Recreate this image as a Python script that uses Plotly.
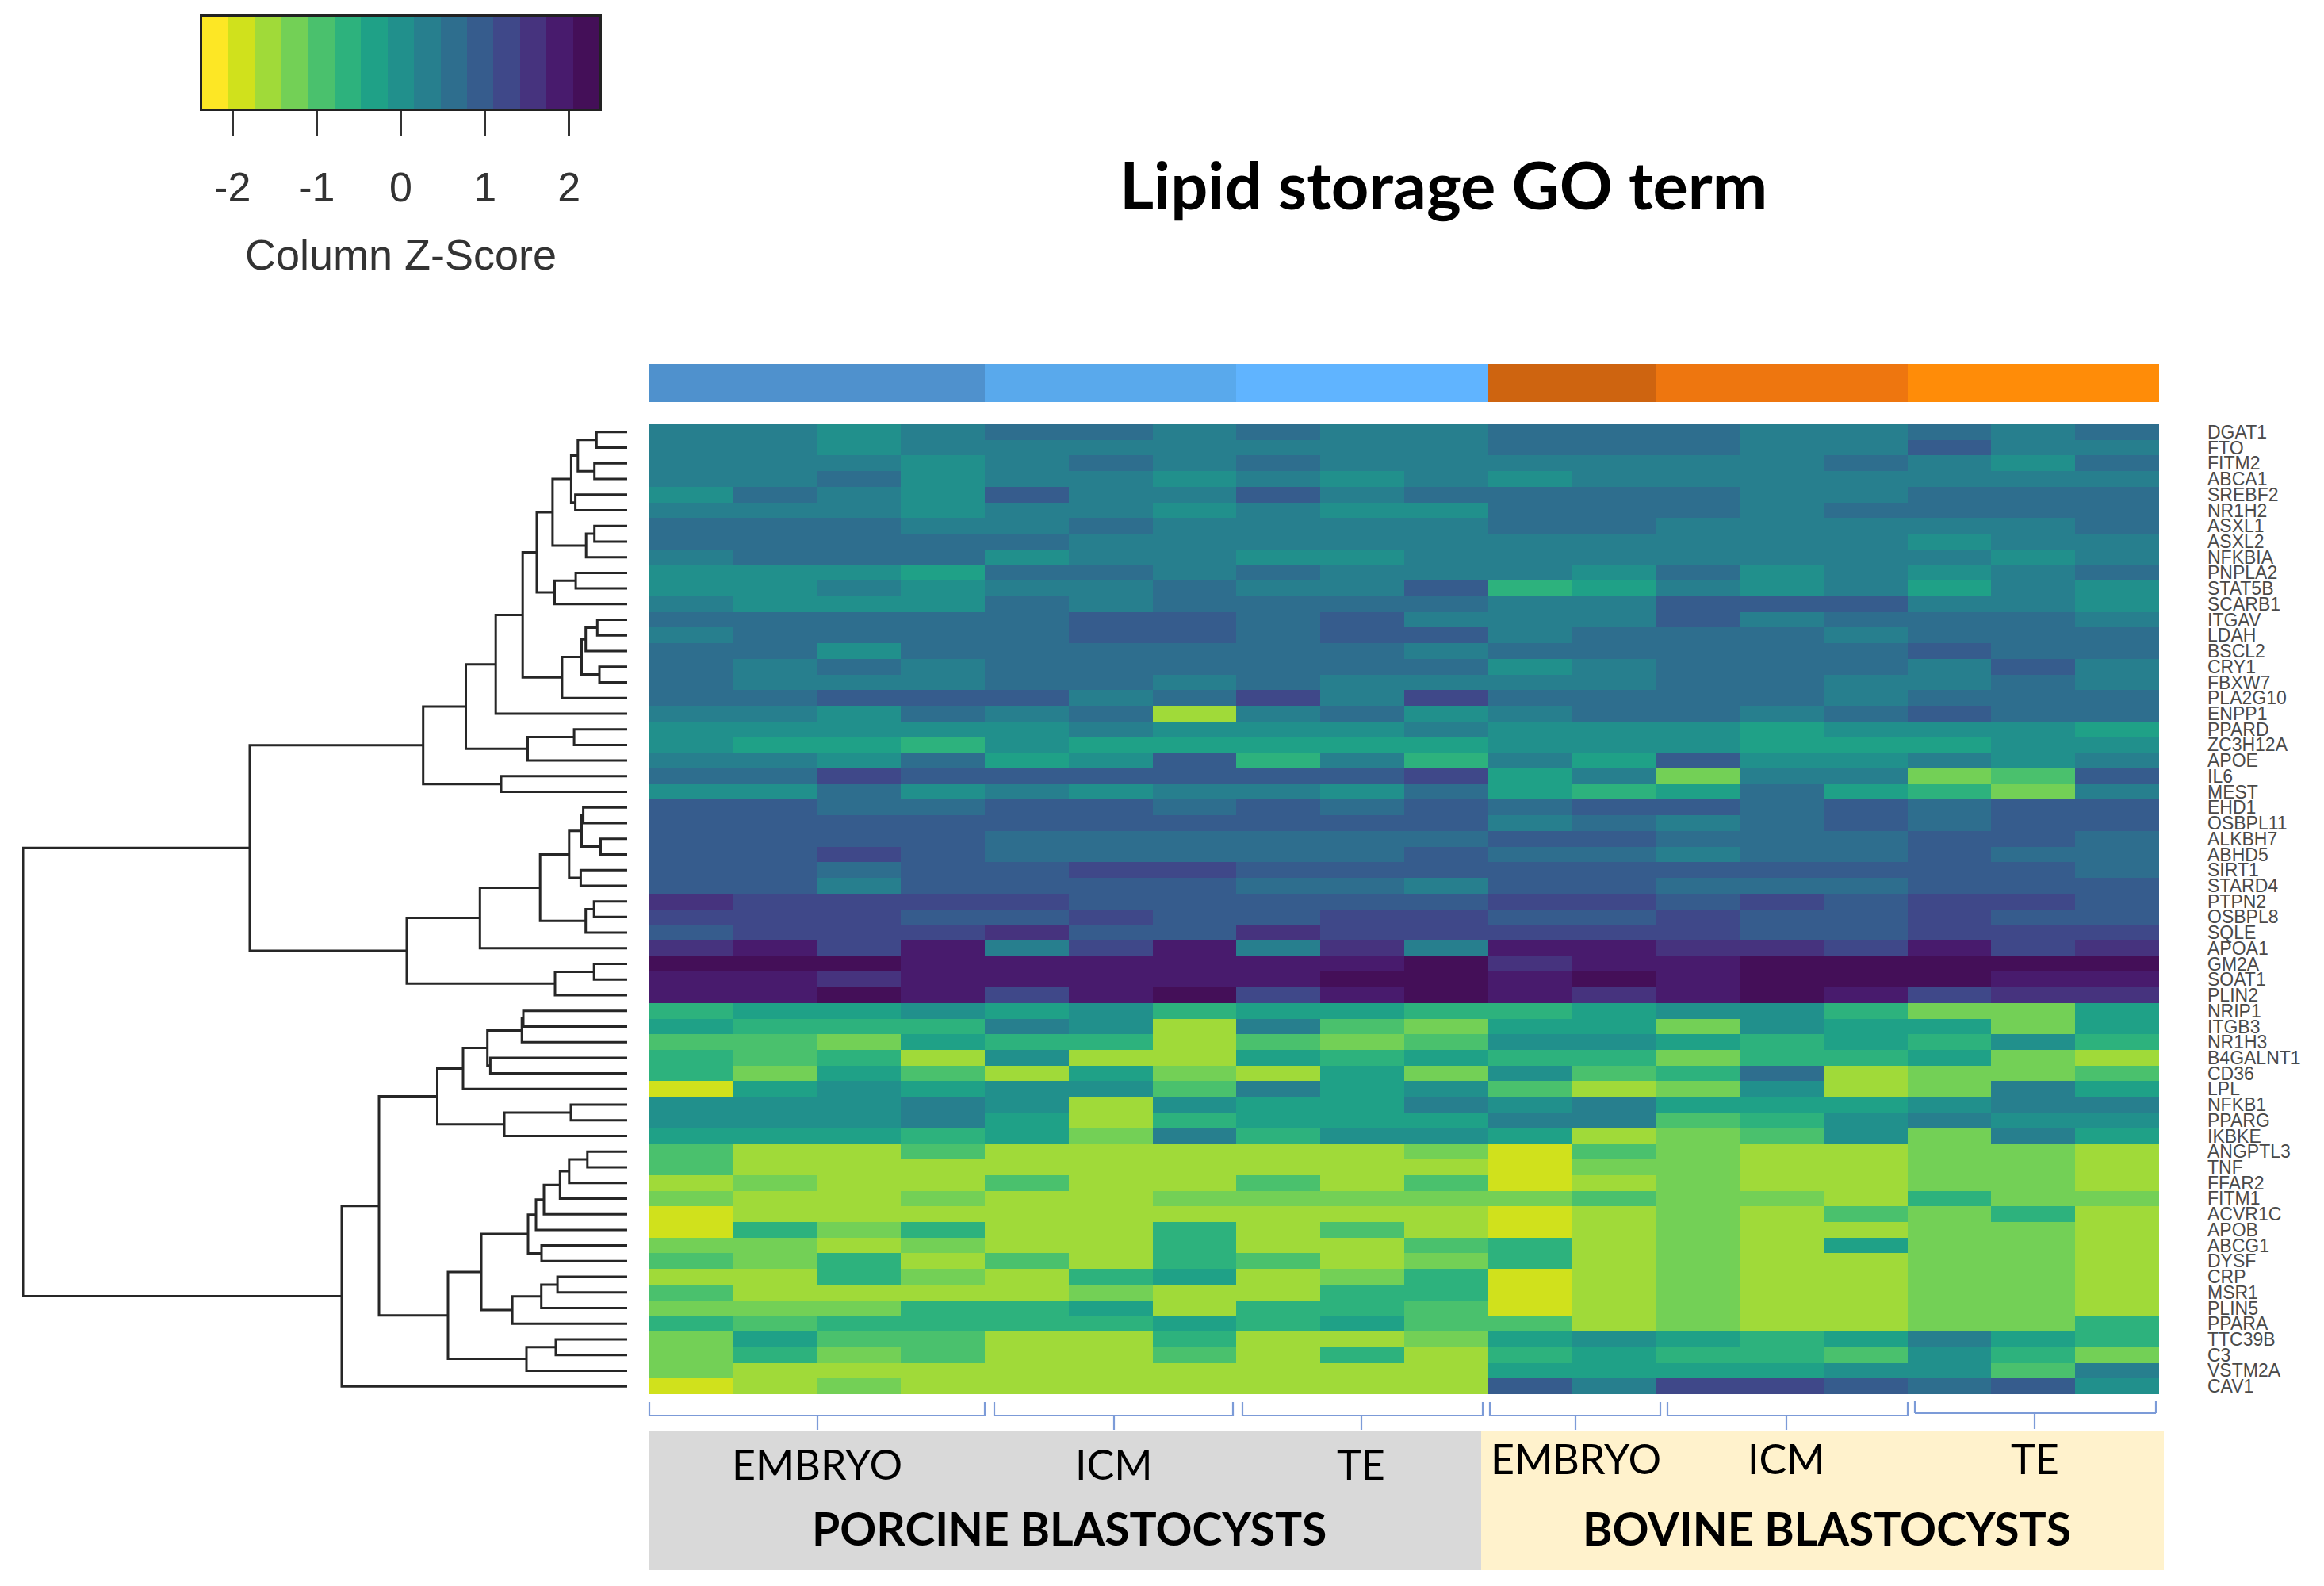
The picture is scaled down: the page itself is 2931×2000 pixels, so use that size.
import plotly.graph_objects as go

GENES = ["DGAT1","FTO","FITM2","ABCA1","SREBF2","NR1H2","ASXL1","ASXL2","NFKBIA","PNPLA2",
         "STAT5B","SCARB1","ITGAV","LDAH","BSCL2","CRY1","FBXW7","PLA2G10","ENPP1","PPARD",
         "ZC3H12A","APOE","IL6","MEST","EHD1","OSBPL11","ALKBH7","ABHD5","SIRT1","STARD4",
         "PTPN2","OSBPL8","SQLE","APOA1","GM2A","SOAT1","PLIN2","NRIP1","ITGB3","NR1H3",
         "B4GALNT1","CD36","LPL","NFKB1","PPARG","IKBKE","ANGPTL3","TNF","FFAR2","FITM1",
         "ACVR1C","APOB","ABCG1","DYSF","CRP","MSR1","PLIN5","PPARA","TTC39B","C3",
         "VSTM2A","CAV1"]

# one row per gene, 18 samples: porcine embryo x4, ICM x3, TE x3, bovine embryo x2, ICM x3, TE x3
Z_SCORES = [
 [.3,.3,0,.3,.6,.6,.3,.6,.3,.3,.6,.6,.6,.3,.3,.6,.3,.6],
 [.3,.3,0,.3,.3,.3,.3,.3,.3,.3,.6,.6,.6,.3,.3,.9,.3,.3],
 [.3,.3,.3,0,.3,.6,.3,.6,.3,.3,.3,.3,.3,.3,.6,.3,0,.6],
 [.3,.3,.6,0,.3,.3,0,.3,0,.3,0,.3,.3,.3,.3,.3,.3,.3],
 [0,.6,.3,0,.9,.3,.3,.9,.3,.6,.6,.6,.6,.3,.3,.6,.6,.6],
 [.3,.3,.3,0,.3,.3,0,.3,0,0,.6,.6,.6,.3,.6,.6,.6,.6],
 [.6,.6,.6,.3,.3,.6,.3,.3,.3,.3,.6,.6,.3,.3,.3,.3,.3,.6],
 [.6,.6,.6,.6,.6,.3,.3,.3,.3,.3,.3,.3,.3,.3,.3,0,.3,.3],
 [.3,.6,.6,.6,0,.3,.3,0,0,.3,.3,.3,.3,.3,.3,.3,0,.3],
 [0,0,0,-.3,.6,.6,.3,.6,.3,.3,.3,0,.6,0,.3,0,.3,.6],
 [0,0,.3,0,.3,.3,.6,.3,.3,.9,-.6,-.3,.3,0,.3,-.3,.3,0],
 [.3,0,0,0,.6,.3,.6,.6,.6,.6,.3,.3,.9,.9,.9,.3,.3,0],
 [.6,.6,.6,.6,.6,.9,.9,.6,.9,.3,.3,.3,.9,.3,.6,.6,.6,.3],
 [.3,.6,.6,.6,.6,.9,.9,.6,.9,.9,.3,.6,.6,.6,.3,.6,.6,.6],
 [.6,.6,0,.6,.6,.6,.6,.6,.6,.3,.6,.6,.6,.6,.6,.9,.6,.6],
 [.6,.3,.6,.3,.6,.6,.6,.6,.6,.6,0,.3,.6,.6,.6,.3,.9,.3],
 [.6,.3,.3,.3,.6,.6,.3,.6,.3,.3,.3,.3,.6,.6,.3,.3,.6,.3],
 [.6,.6,.9,.9,.9,.3,.6,1.3,.3,1.3,.6,.6,.6,.6,.3,.6,.6,.6],
 [.3,.3,0,.6,.3,.6,-1.6,.3,.6,0,.3,.6,.6,.3,.6,.9,.6,.6],
 [0,0,0,0,0,.3,0,0,0,.3,0,0,0,-.3,0,0,0,-.3],
 [0,-.3,-.3,-.6,0,-.3,-.3,-.3,-.3,-.3,0,0,0,-.3,-.3,-.3,0,0],
 [.3,.3,0,.6,-.3,0,.9,-.6,.3,-.6,.3,-.3,.9,0,0,.3,0,.3],
 [.6,.6,1.3,.9,.9,.9,.9,.9,.9,1.3,-.3,.3,-1.3,.3,.3,-1.3,-.9,.9],
 [0,0,.6,0,.3,0,.3,.3,0,.6,-.3,-.6,-.3,.6,-.3,-.6,-1.3,.3],
 [.9,.9,.6,.6,.9,.9,.6,.9,.6,.9,.6,.9,.9,.6,.9,.6,.9,.9],
 [.9,.9,.9,.9,.9,.9,.9,.9,.9,.9,.3,.6,.3,.6,.9,.6,.9,.9],
 [.9,.9,.9,.9,.6,.6,.6,.6,.6,.6,.9,.9,.6,.6,.6,.9,.9,.6],
 [.9,.9,1.3,.9,.6,.6,.6,.6,.6,.9,.6,.6,.3,.6,.6,.9,.6,.6],
 [.9,.9,.6,.9,.9,1.3,1.3,.9,.9,.9,.9,.9,.9,.9,.9,.9,.9,.6],
 [.9,.9,.3,.9,.9,.9,.9,.6,.6,.3,.9,.9,.6,.6,.6,.9,.9,.9],
 [1.6,1.3,1.3,1.3,1.3,.9,.9,.9,.9,.9,1.3,1.3,.9,1.3,.9,1.3,1.3,.9],
 [1.3,1.3,1.3,.9,.9,1.3,.9,.9,1.3,1.3,.9,.9,1.3,.9,.9,1.3,.9,.9],
 [.9,1.3,1.3,1.3,1.6,.9,.9,1.6,1.3,1.3,1.3,1.3,1.3,.9,.9,1.3,1.3,1.3],
 [1.6,1.9,1.3,1.9,.3,1.3,1.9,.3,1.6,.3,1.9,1.9,1.6,1.6,1.3,1.9,1.3,1.6],
 [2.2,2.2,2.2,1.9,1.9,1.9,1.9,1.9,1.9,2.2,1.6,1.9,1.9,2.2,2.2,2.2,2.2,2.2],
 [1.9,1.9,1.6,1.9,1.9,1.9,1.9,1.9,2.2,2.2,1.9,2.2,1.9,2.2,2.2,2.2,1.9,1.9],
 [1.9,1.9,2.2,1.9,1.3,1.9,2.2,1.3,1.9,2.2,1.9,1.6,1.9,2.2,1.9,1.3,1.6,1.6],
 [-.6,-.3,-.3,0,-.3,0,-.6,-.3,-.3,-.6,-.6,-.3,0,0,-.6,-1.3,-1.3,-.3],
 [-.3,-.6,-.6,-.6,.3,0,-1.6,.3,-.9,-1.3,-.3,-.3,-1.3,0,-.3,-.3,-1.3,-.3],
 [-.9,-.9,-1.3,-.3,-.6,-.6,-1.6,-.9,-1.3,-.9,0,0,-.3,-.6,-.3,-.6,0,-.6],
 [-.6,-.9,-.6,-1.6,0,-1.6,-1.6,-.3,-.6,-.3,-.6,-.6,-1.3,-.6,-.6,-.3,-1.3,-1.6],
 [-.6,-1.3,-.3,-.9,-1.6,-.3,-1.3,-1.6,-.3,-1.3,0,-.9,-.6,.6,-1.6,-1.3,-1.3,-.9],
 [-1.9,-.3,0,-.3,0,0,-.9,.3,-.3,0,-.9,-1.6,-1.3,0,-1.6,-1.3,.3,-.3],
 [0,0,0,.3,0,-1.6,0,-.3,-.3,.3,0,.3,-.3,-.3,-.3,0,.3,.3],
 [0,0,0,.3,-.3,-1.6,-.6,-.3,-.3,-.3,.3,.3,-.9,-.6,0,.3,0,0],
 [-.3,-.3,-.3,-.6,-.3,-1.3,.3,-.6,0,0,-.3,-1.6,-1.3,-.9,0,-1.3,.3,-.3],
 [-.9,-1.6,-1.6,-.9,-1.6,-1.6,-1.6,-1.6,-1.6,-1.3,-1.9,-.9,-1.3,-1.6,-1.6,-1.3,-1.3,-1.6],
 [-.9,-1.6,-1.6,-1.6,-1.6,-1.6,-1.6,-1.6,-1.6,-1.6,-1.9,-1.3,-1.3,-1.6,-1.6,-1.3,-1.3,-1.6],
 [-1.6,-1.3,-1.6,-1.6,-.9,-1.6,-1.6,-.9,-1.6,-.9,-1.9,-1.6,-1.3,-1.6,-1.6,-1.3,-1.3,-1.6],
 [-1.3,-1.6,-1.6,-1.3,-1.6,-1.6,-1.3,-1.3,-1.3,-1.3,-1.3,-.9,-1.3,-1.3,-1.6,-.6,-1.3,-1.3],
 [-1.9,-1.6,-1.6,-1.6,-1.6,-1.6,-1.6,-1.6,-1.6,-1.6,-1.9,-1.6,-1.3,-1.6,-.9,-1.3,-.6,-1.6],
 [-1.9,-.6,-1.3,-.6,-1.6,-1.6,-.6,-1.6,-.9,-1.6,-1.9,-1.6,-1.3,-1.6,-1.6,-1.3,-1.3,-1.6],
 [-1.3,-1.3,-1.6,-1.3,-1.6,-1.6,-.6,-1.6,-1.6,-.9,-.6,-1.6,-1.3,-1.6,-.3,-1.3,-1.3,-1.6],
 [-.9,-1.3,-.6,-1.6,-.9,-1.6,-.6,-.9,-1.6,-1.3,-.6,-1.6,-1.3,-1.6,-1.6,-1.3,-1.3,-1.6],
 [-1.6,-1.6,-.6,-1.3,-1.6,-.6,-.3,-1.6,-1.3,-.6,-1.9,-1.6,-1.3,-1.6,-1.6,-1.3,-1.3,-1.6],
 [-.9,-1.6,-1.6,-1.6,-1.6,-1.3,-1.6,-1.6,-.6,-.6,-1.9,-1.6,-1.3,-1.6,-1.6,-1.3,-1.3,-1.6],
 [-1.3,-1.3,-1.3,-.6,-.6,-.3,-1.6,-.6,-.6,-.9,-1.9,-1.6,-1.3,-1.6,-1.6,-1.3,-1.3,-1.6],
 [-.6,-.9,-.6,-.6,-.6,-.6,-.3,-.6,-.3,-.9,-.9,-1.6,-1.3,-1.6,-1.6,-1.3,-1.3,-.6],
 [-1.3,-.3,-.9,-.9,-1.6,-1.6,-.6,-1.6,-1.6,-1.3,-.3,0,-.3,-.6,-.3,.3,-.3,-.6],
 [-1.3,-.6,-1.3,-.9,-1.6,-1.6,-.9,-1.6,-.6,-1.6,-.6,-.3,-.6,-.6,-.9,0,-.6,-1.3],
 [-1.3,-1.6,-1.6,-1.6,-1.6,-1.6,-1.6,-1.6,-1.6,-1.6,-.3,-.3,-.3,-.3,0,0,-.9,.3],
 [-1.9,-1.6,-1.3,-1.6,-1.6,-1.6,-1.6,-1.6,-1.6,-1.6,.9,.3,1.3,1.3,.9,.6,.9,0],
]

# dendrogram merges in bottom-up order: (child, child, height).
# an int child is a gene row, a string child names an earlier merge
MERGES = {
 "a": (0, 1, 38.7), "b": (2, 3, 41.3), "ab": ("a", "b", 62.2), "c": (4, 5, 65.4),
 "abc": ("ab", "c", 70.6), "d": (6, 7, 41.3), "de": ("d", 8, 51.8), "f": ("abc", "de", 94.1),
 "g": (9, 10, 64.9), "g2": ("g", 11, 91.5), "h": ("f", "g2", 114.0),
 "i": (12, 13, 37.7), "i2": ("i", 14, 52.3), "j": (15, 16, 35.0), "ij": ("i2", "j", 57.5),
 "ij2": ("ij", 17, 82.1), "k": ("h", "ij2", 131.8), "l": ("k", 18, 165.8),
 "m": (19, 20, 66.9), "m2": ("m", 21, 125.5), "n": ("l", "m2", 203.5),
 "o": (22, 23, 159.0), "p": ("n", "o", 257.3),
 "q1": (24, 25, 55.4), "q2": (26, 27, 33.5), "q3": ("q1", "q2", 57.5), "q4": (28, 29, 58.6),
 "q5": ("q3", "q4", 73.2), "q6": (30, 31, 41.8), "q7": ("q6", 32, 52.3), "q8": ("q5", "q7", 109.8),
 "q9": ("q8", 33, 185.7), "r1": (34, 35, 41.8), "r2": ("r1", 36, 91.0), "q": ("q9", "r2", 278.0),
 "top": ("p", "q", 476.0),
 "s1": (37, 38, 131.0), "s2": ("s1", 39, 132.8), "s3": (40, 41, 172.6), "s4": ("s2", "s3", 176.3),
 "s5": ("s4", 42, 207.0), "t1": (43, 44, 71.0), "t2": ("t1", 45, 155.0), "s": ("s5", "t2", 239.5),
 "u1": (46, 47, 50.2), "u2": ("u1", 48, 73.2), "u3": ("u2", 49, 84.7), "u4": ("u3", 50, 105.0),
 "u5": ("u4", 51, 115.0), "u6": (52, 53, 108.0), "u7": ("u5", "u6", 125.0),
 "v1": (54, 55, 87.9), "v2": ("v1", 56, 108.3), "v3": ("v2", 57, 144.9), "w": ("u7", "v3", 184.0),
 "x1": (58, 59, 90.0), "x2": ("x1", 60, 127.0), "y": ("w", "x2", 226.0),
 "z1": ("s", "y", 313.0), "z2": ("z1", 61, 360.0), "root": ("top", "z2", 762.0),
}

LEGEND_BINS = [-2.2,-1.9,-1.6,-1.3,-.9,-.6,-.3,0,.3,.6,.9,1.3,1.6,1.9,2.2]
LEGEND_COLORS = ["#FDE725","#D0E11C","#A0DA39","#73D056","#4AC16D","#2DB27D","#1FA187","#21908C",
                 "#277F8E","#2E6E8E","#365C8D","#3F4889","#46337E","#481B6D","#440F58"]
LEGEND_TICKS = [-2,-1,0,1,2]

SIDE_GROUPS = [0,0,0,0,1,1,1,2,2,2,3,3,4,4,4,5,5,5]
SIDE_COLORS = ["#4F91CD","#59A9EC","#60B4FF","#CE6410","#EE760F","#FF8C08"]

TISSUES_PORCINE = ["EMBRYO","ICM","TE"]
TISSUES_BOVINE = ["EMBRYO","ICM","TE"]

# the page adds an 8px body margin, so the figure is laid out inside that offset
OFF = 8
W, H = 2915, 1984
def fx(p): return (p - OFF) / W
def fy(p): return 1 - (p - OFF) / H
def dom_x(a, b): return [fx(a), fx(b)]
def dom_y(top, bottom): return [fy(bottom), fy(top)]

HEAT_L, HEAT_R, HEAT_T, HEAT_B = 819, 2723, 535, 1758
ZLIM = 2.36

def step_scale(colors):
    n = len(colors)
    out = []
    for i, c in enumerate(colors):
        out += [[i / n, c], [(i + 1) / n, c]]
    return out

fig = go.Figure()
scale = step_scale(LEGEND_COLORS)

fig.add_trace(go.Heatmap(z=Z_SCORES, x=list(range(18)), y=list(range(len(GENES))),
                         colorscale=scale, zmin=-ZLIM, zmax=ZLIM, showscale=False,
                         xaxis="x", yaxis="y", hoverongaps=False))

fig.add_trace(go.Heatmap(z=[SIDE_GROUPS], x=list(range(18)), y=[0],
                         colorscale=step_scale(SIDE_COLORS), zmin=-0.5, zmax=5.5, showscale=False,
                         xaxis="x", yaxis="y3"))

fig.add_trace(go.Heatmap(z=[LEGEND_BINS], colorscale=scale, zmin=-ZLIM, zmax=ZLIM, showscale=False,
                         x=[-ZLIM + (i + .5) * 2 * ZLIM / 15 for i in range(15)], y=[0],
                         xaxis="x4", yaxis="y4"))

# dendrogram
pos = {i: i for i in range(len(GENES))}
hgt = {i: 0 for i in range(len(GENES))}
dx, dy = [], []
for name, (a, b, h) in MERGES.items():
    dx += [hgt[a], h, h, hgt[b], None]
    dy += [pos[a], pos[a], pos[b], pos[b], None]
    pos[name] = (pos[a] + pos[b]) / 2
    hgt[name] = h
fig.add_trace(go.Scatter(x=dx, y=dy, mode="lines", line=dict(color="#262626", width=3),
                         xaxis="x3", yaxis="y2", hoverinfo="skip", showlegend=False))

shapes = []
def box(x0, y0, x1, y1, color):
    shapes.append(dict(type="rect", xref="paper", yref="paper", x0=fx(x0), x1=fx(x1),
                       y0=fy(y0), y1=fy(y1), fillcolor=color, line=dict(width=0), layer="below"))
def line(x0, y0, x1, y1):
    shapes.append(dict(type="line", xref="paper", yref="paper", x0=fx(x0), x1=fx(x1),
                       y0=fy(y0), y1=fy(y1), line=dict(color="#7C9BD8", width=2.2)))
box(818, 1804, 1868, 1980, "#D9D9D9")
box(1868, 1804, 2729, 1980, "#FFF2CC")
for x0, x1, xc, t, m, b in [(819,1242,1031,1768,1785,1803),(1254,1555,1405,1768,1785,1803),
                            (1567,1870,1717,1768,1785,1803),(1879,2094,1987,1768,1785,1803),
                            (2103,2406,2253,1768,1785,1803),(2415,2719,2566,1767,1782,1802)]:
    line(x0, t, x0, m); line(x0, m, x1, m); line(x1, m, x1, t); line(xc, m, xc, b)

anns = []
def text(x, y, s, size, bold=False, family="Lato"):
    anns.append(dict(xref="paper", yref="paper", x=fx(x), y=fy(y), text=f"<b>{s}</b>" if bold else s,
                     showarrow=False, xanchor="center", yanchor="middle",
                     font=dict(family=family, size=size, color="#000000")))
text(1820, 232, "Lipid storage GO term", 83, True)
for t, x in zip(TISSUES_PORCINE, [1031, 1405, 1717]):
    text(x, 1846, t, 52)
for t, x in zip(TISSUES_BOVINE, [1987, 2253, 2566]):
    text(x, 1839, t, 52)
text(1348, 1927, "PORCINE BLASTOCYSTS", 57, True)
text(2304, 1927, "BOVINE BLASTOCYSTS", 57, True)

hidden = dict(visible=False, showgrid=False, zeroline=False)
fig.update_layout(
    width=W, height=H, margin=dict(l=0, r=0, t=0, b=0), autosize=False,
    paper_bgcolor="white", plot_bgcolor="white", showlegend=False,
    shapes=shapes, annotations=anns,
    xaxis=dict(domain=dom_x(HEAT_L, HEAT_R), range=[-.5, 17.5], anchor="y", **hidden),
    yaxis=dict(domain=dom_y(HEAT_T, HEAT_B), range=[61.5, -.5], anchor="x", side="right",
               tickmode="array", tickvals=list(range(len(GENES))), ticktext=GENES,
               ticks="", showgrid=False, zeroline=False, showline=False, ticklabelstandoff=60,
               tickfont=dict(family="Liberation Sans", size=23, color="#4A4A4A"), automargin=False),
    xaxis3=dict(domain=dom_x(28, 791), range=[763, 0], anchor="y2", **hidden),
    yaxis2=dict(domain=dom_y(HEAT_T, HEAT_B), range=[61.5, -.5], anchor="x3", **hidden),
    yaxis3=dict(domain=dom_y(459, 507), range=[-.5, .5], anchor="x", **hidden),
    xaxis4=dict(domain=dom_x(255, 756), range=[-ZLIM, ZLIM], anchor="y4", tickmode="array",
                tickvals=LEGEND_TICKS, ticktext=[str(t) for t in LEGEND_TICKS], ticks="outside", ticklen=31,
                tickwidth=3, tickcolor="#333333", showline=True, linecolor="#222222", linewidth=3, mirror=True,
                showgrid=False, zeroline=False, ticklabelstandoff=21,
                tickfont=dict(family="Liberation Sans", size=52, color="#333333"),
                title=dict(text="Column Z-Score", standoff=38,
                           font=dict(family="Liberation Sans", size=54, color="#333333")), automargin=False),
    yaxis4=dict(domain=dom_y(21, 137), range=[-.5, .5], anchor="x4", showline=True, linecolor="#222222",
                linewidth=3, mirror=True, showticklabels=False, ticks="", showgrid=False, zeroline=False),
)
fig.write_html("out.html")
